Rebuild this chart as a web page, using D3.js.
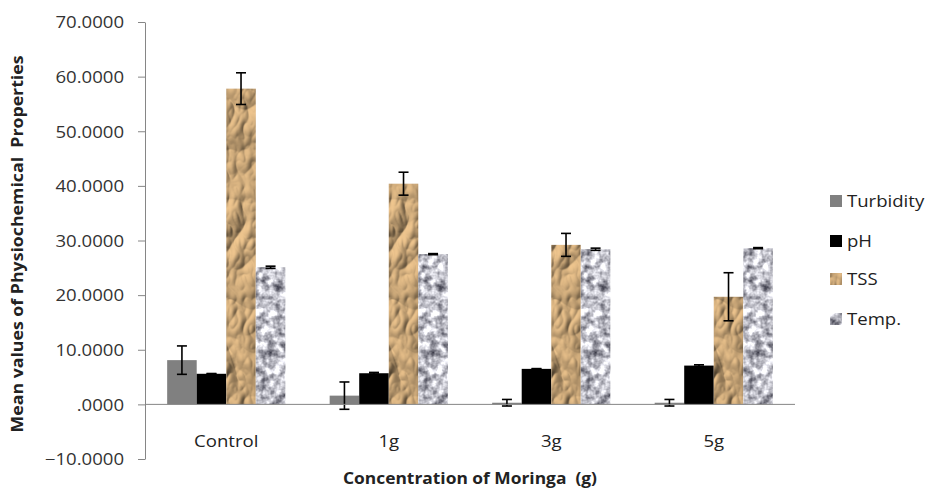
<!DOCTYPE html>
<html>
<head>
<meta charset="utf-8">
<script src="https://cdn.jsdelivr.net/npm/d3@7"></script>
<style>
  html, body { margin: 0; padding: 0; background: #fff; }
  svg { display: block; }
  text { font-family: "Open Sans", "Noto Sans", sans-serif; white-space: pre; }
</style>
</head>
<body>
<svg id="chart" width="927" height="488"></svg>
<script>
// ---------- data ----------
const categories = ["Control", "1g", "3g", "5g"];
const seriesNames = ["Turbidity", "pH", "TSS", "Temp."];
const turbidity    = [8.1, 1.6, 0.3, 0.3];
const turbidityErr = [2.6, 2.5, 0.6, 0.6];
const pH           = [5.6, 5.7, 6.5, 7.1];
const pHErr        = [0.05, 0.15, 0.05, 0.15];
const tss          = [57.8, 40.4, 29.2, 19.7];
const tssErr       = [2.9, 2.1, 2.1, 4.4];
const temp         = [25.1, 27.5, 28.4, 28.6];
const tempErr      = [0.2, 0.1, 0.2, 0.1];
const yTicks = [-10, 0, 10, 20, 30, 40, 50, 60, 70];
const xTitle = "Concentration of Moringa  (g)";
const yTitle = "Mean values of Physiochemical  Properties";

const seriesValues = [turbidity, pH, tss, temp];
const seriesErrors = [turbidityErr, pHErr, tssErr, tempErr];
const fills = ["#808080", "#000000", "#c8a070", "#c4c4cc"];
const filters = [null, null, "url(#paper)", "url(#granite)"];

// ---------- layout ----------
const svg = d3.select("#chart");
const plot = { left: 145, right: 795, top: 22, bottom: 459 };
const STRETCH = 1.16;

const defs = svg.append("defs");
// crumpled paper texture
const fPaper = defs.append("filter").attr("id", "paper")
  .attr("x", 0).attr("y", 0).attr("width", 1).attr("height", 1)
  .attr("color-interpolation-filters", "sRGB");
fPaper.append("feTurbulence").attr("type", "turbulence")
  .attr("baseFrequency", "0.032 0.02").attr("numOctaves", 3).attr("seed", 11).attr("result", "n");
const dl = fPaper.append("feDiffuseLighting").attr("in", "n")
  .attr("lighting-color", "#f2c890").attr("surfaceScale", 4.5).attr("diffuseConstant", 1.0).attr("result", "l");
dl.append("feDistantLight").attr("azimuth", 225).attr("elevation", 55);
fPaper.append("feComposite").attr("in", "l").attr("in2", "SourceGraphic").attr("operator", "in");

// granite texture
const fGran = defs.append("filter").attr("id", "granite")
  .attr("x", 0).attr("y", 0).attr("width", 1).attr("height", 1)
  .attr("color-interpolation-filters", "sRGB");
fGran.append("feTurbulence").attr("type", "fractalNoise")
  .attr("baseFrequency", "0.12").attr("numOctaves", 3).attr("seed", 4).attr("result", "n");
fGran.append("feColorMatrix").attr("in", "n").attr("type", "matrix")
  .attr("values", "0 0 0 1 0  0 0 0 1 0  0 0 0 1 0  0 0 0 0 1").attr("result", "g");
const ct = fGran.append("feComponentTransfer").attr("in", "g").attr("result", "c");
ct.append("feFuncR").attr("type", "linear").attr("slope", 1.45).attr("intercept", 0.03);
ct.append("feFuncG").attr("type", "linear").attr("slope", 1.45).attr("intercept", 0.03);
ct.append("feFuncB").attr("type", "linear").attr("slope", 1.4).attr("intercept", 0.09);
fGran.append("feComposite").attr("in", "c").attr("in2", "SourceGraphic").attr("operator", "in");

const x0 = d3.scaleBand().domain(categories).range([plot.left, plot.right]).paddingInner(0).paddingOuter(0);
const bw = x0.bandwidth() / 5.5;           // gap width 150%
const x1 = d3.scaleBand().domain(seriesNames).range([0, bw * 4]);
const y = d3.scaleLinear().domain([-10, 70]).range([plot.bottom, plot.top]);

function stretch(sel, k) {
  sel.each(function () {
    const w = this.getComputedTextLength();
    this.setAttribute("textLength", w * k);
    this.setAttribute("lengthAdjust", "spacingAndGlyphs");
  });
}

// ---------- y axis ----------
const fmt = d => d3.format(".4f")(d).replace(/^0\./, ".");
const yAxis = svg.append("g").attr("transform", `translate(${plot.left},0)`)
  .call(d3.axisLeft(y).tickValues(yTicks).tickFormat(fmt).tickSize(7).tickSizeOuter(0).tickPadding(14));
yAxis.select(".domain").attr("stroke", "#868686");
yAxis.selectAll(".tick line").attr("stroke", "#868686");
yAxis.selectAll(".tick text").attr("font-size", 16).attr("fill", "#333").attr("dy", "0.36em")
  .attr("font-family", "Open Sans");
stretch(yAxis.selectAll(".tick text"), STRETCH);

// ---------- bars ----------
const groups = svg.append("g").selectAll("g").data(categories).join("g")
  .attr("transform", c => `translate(${x0(c) + bw * 0.75},0)`);

seriesNames.forEach((s, si) => {
  groups.append("rect")
    .attr("x", x1(s))
    .attr("width", bw)
    .attr("y", (c, ci) => y(Math.max(0, seriesValues[si][ci])))
    .attr("height", (c, ci) => Math.abs(y(seriesValues[si][ci]) - y(0)))
    .attr("fill", fills[si])
    .attr("filter", filters[si]);
});

// zero line (category axis)
svg.append("line").attr("x1", plot.left).attr("x2", plot.right)
  .attr("y1", y(0)).attr("y2", y(0)).attr("stroke", "#868686").attr("stroke-width", 1);

// error bars
seriesNames.forEach((s, si) => {
  const eg = groups.append("g").attr("stroke", "#000").attr("stroke-width", 1.6);
  eg.append("line")
    .attr("x1", x1(s) + bw / 2).attr("x2", x1(s) + bw / 2)
    .attr("y1", (c, ci) => y(seriesValues[si][ci] + seriesErrors[si][ci]))
    .attr("y2", (c, ci) => y(seriesValues[si][ci] - seriesErrors[si][ci]));
  [1, -1].forEach(sg => {
    eg.append("line")
      .attr("x1", x1(s) + bw / 2 - 5).attr("x2", x1(s) + bw / 2 + 5)
      .attr("y1", (c, ci) => y(seriesValues[si][ci] + sg * seriesErrors[si][ci]))
      .attr("y2", (c, ci) => y(seriesValues[si][ci] + sg * seriesErrors[si][ci]));
  });
});

// ---------- category labels ----------
const catLab = svg.append("g").selectAll("text").data(categories).join("text")
  .attr("x", c => x0(c) + x0.bandwidth() / 2)
  .attr("y", 447)
  .attr("text-anchor", "middle")
  .attr("font-size", 16).attr("fill", "#222")
  .text(c => c);
stretch(catLab, STRETCH);

// ---------- axis titles ----------
svg.append("text")
  .attr("x", 470).attr("y", 484)
  .attr("text-anchor", "middle")
  .attr("font-size", 16).attr("font-weight", "bold").attr("fill", "#222")
  .attr("textLength", 254).attr("lengthAdjust", "spacingAndGlyphs")
  .text(xTitle);

svg.append("text")
  .attr("transform", "translate(23,244) rotate(-90)")
  .attr("text-anchor", "middle")
  .attr("font-size", 16).attr("font-weight", "bold").attr("fill", "#222")
  .attr("textLength", 377).attr("lengthAdjust", "spacingAndGlyphs")
  .text(yTitle);

// ---------- legend ----------
const legendY = [201, 241, 279, 319];
const lg = svg.append("g").selectAll("g").data(seriesNames).join("g")
  .attr("transform", (s, i) => `translate(830,${legendY[i]})`);
lg.append("rect").attr("x", 0).attr("y", -6).attr("width", 12).attr("height", 12)
  .attr("fill", (s, i) => fills[i])
  .attr("filter", (s, i) => filters[i]);
const lt = lg.append("text").attr("x", 17).attr("y", 0).attr("dy", "0.36em")
  .attr("font-size", 16).attr("fill", "#222").text(s => s);
stretch(lt, STRETCH);
</script>
</body>
</html>
